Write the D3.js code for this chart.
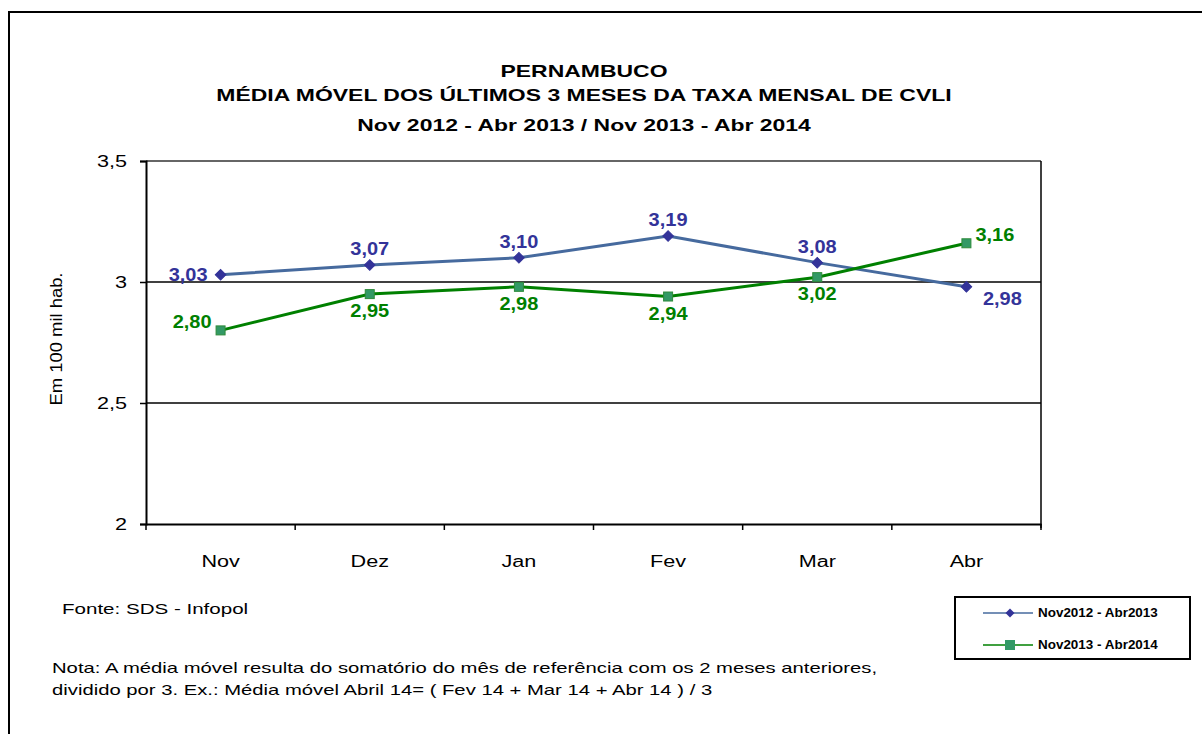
<!DOCTYPE html>
<html><head><meta charset="utf-8">
<script src="https://cdn.jsdelivr.net/npm/d3@7"></script>
<style>body{margin:0;background:#fff}svg{display:block;font-family:Arial,"Liberation Sans",sans-serif}</style>
</head><body>
<svg id="c" width="1202" height="734"></svg>
<script>
const categories = ["Nov","Dez","Jan","Fev","Mar","Abr"];
const series1Name = "Nov2012 - Abr2013";
const series1 = [3.03,3.07,3.10,3.19,3.08,2.98];
const series2Name = "Nov2013 - Abr2014";
const series2 = [2.80,2.95,2.98,2.94,3.02,3.16];
const yTicks = [2,2.5,3,3.5];
const titleLines = ["PERNAMBUCO","MÉDIA MÓVEL DOS ÚLTIMOS 3 MESES DA TAXA MENSAL DE CVLI","Nov 2012 - Abr 2013 / Nov 2013 - Abr 2014"];
const yLabel = "Em 100 mil hab.";
const source = "Fonte: SDS - Infopol";
const noteLines = ["Nota: A média móvel resulta do somatório do mês de referência com os 2 meses anteriores,","dividido por 3. Ex.: Média móvel  Abril 14= ( Fev 14 + Mar 14 + Abr 14 ) / 3"];

const svg = d3.select("#c");
const fmt = v => d3.format(".2f")(v).replace(".", ",");
const tfmt = v => String(v).replace(".", ",");
function stretch(sel, f){
  sel.each(function(){
    const w = this.getComputedTextLength();
    this.setAttribute("textLength", w*f);
    this.setAttribute("lengthAdjust","spacingAndGlyphs");
  });
}
const SX = 1.35;

// outer frame
svg.append("rect").attr("x",9).attr("y",12).attr("width",1300).attr("height",800)
  .attr("fill","none").attr("stroke","#000").attr("stroke-width",2);

const L=146, R=1041, T=161, B=524;
const x = d3.scaleBand().domain(categories).range([L,R]);
const y = d3.scaleLinear().domain([2,3.5]).range([B,T]);

// title
const tt = svg.append("g").selectAll("text").data(titleLines).join("text")
  .attr("x",584).attr("y",(d,i)=>[77,101,131][i]).attr("text-anchor","middle")
  .attr("font-weight","bold").attr("font-size",17).text(d=>d);
stretch(tt, SX);

// gridlines
svg.append("g").selectAll("line").data(yTicks.filter(t=>t>2)).join("line")
  .attr("x1",L).attr("x2",R).attr("y1",d=>y(d)).attr("y2",d=>y(d))
  .attr("stroke",(d)=>d===3.5?"#333":"#000").attr("stroke-width",1.5);
// right border
svg.append("line").attr("x1",R).attr("x2",R).attr("y1",T).attr("y2",B+4).attr("stroke","#000").attr("stroke-width",1.5);

// y axis
const ya = svg.append("g").attr("transform",`translate(${L},0)`)
  .call(d3.axisLeft(y).tickValues(yTicks).tickFormat(tfmt).tickSize(6).tickPadding(13));
ya.select(".domain").attr("stroke-width",2);
ya.selectAll(".tick line").attr("stroke-width",1.5);
ya.selectAll("text").attr("font-size",16).attr("font-family","Arial, 'Liberation Sans'").attr("fill","#000");
stretch(ya.selectAll("text"), SX);

// x axis
const xa = svg.append("g").attr("transform",`translate(0,${B})`)
  .call(d3.axisBottom(x).tickSize(0).tickPadding(32));
xa.select(".domain").attr("stroke-width",2);
xa.selectAll("text").attr("font-size",16).attr("font-family","Arial, 'Liberation Sans'").attr("fill","#000");
stretch(xa.selectAll("text"), SX);
const bounds = categories.map(c=>x(c)).concat([R]);
xa.selectAll(".bt").data(bounds).join("line").attr("class","bt")
  .attr("x1",d=>d).attr("x2",d=>d).attr("y1",0).attr("y2",6).attr("stroke","#000").attr("stroke-width",1.5);

// y label
const yl = svg.append("text").attr("transform","translate(62,339) rotate(-90)").attr("text-anchor","middle")
  .attr("font-size",16).text(yLabel);
stretch(yl, 1.15);

const cx = c => x(c)+x.bandwidth()/2;
const line = d3.line().x((d,i)=>cx(categories[i])).y(d=>y(d));

svg.append("path").datum(series1).attr("d",line).attr("fill","none").attr("stroke","#466a9e").attr("stroke-width",3);
svg.append("path").datum(series2).attr("d",line).attr("fill","none").attr("stroke","#008000").attr("stroke-width",3);

svg.append("g").selectAll("path").data(series1).join("path")
  .attr("transform",(d,i)=>`translate(${cx(categories[i])},${y(d)}) rotate(45)`)
  .attr("d",d3.symbol().type(d3.symbolSquare).size(56)).attr("fill","#333399").attr("stroke","#333399").attr("stroke-width",1);
svg.append("g").selectAll("rect").data(series2).join("rect")
  .attr("x",(d,i)=>cx(categories[i])-4.5).attr("y",d=>y(d)-4.5).attr("width",9).attr("height",9)
  .attr("fill","#339966").attr("stroke","#2e8b3a").attr("stroke-width",1);

// data labels
function pos1(i,v){
  const px=cx(categories[i]), py=y(v);
  if(i===0) return [px-13,py+6,"end"];
  if(i===categories.length-1) return [px+36,py+18,"middle"];
  return [px,py-10,"middle"];
}
function pos2(i,v){
  const px=cx(categories[i]), py=y(v);
  if(i===0) return [px-9,py-2,"end"];
  if(i===categories.length-1) return [px+9,py-2,"start"];
  return [px,py+23,"middle"];
}
const dl1 = svg.append("g").selectAll("text").data(series1).join("text")
  .each(function(d,i){const p=pos1(i,d);d3.select(this).attr("x",p[0]).attr("y",p[1]).attr("text-anchor",p[2]);})
  .attr("font-weight","bold").attr("font-size",18).attr("fill","#333399").text(fmt);
const dl2 = svg.append("g").selectAll("text").data(series2).join("text")
  .each(function(d,i){const p=pos2(i,d);d3.select(this).attr("x",p[0]).attr("y",p[1]).attr("text-anchor",p[2]);})
  .attr("font-weight","bold").attr("font-size",18).attr("fill","#008000").text(fmt);
stretch(dl1, 1.11); stretch(dl2, 1.11);

// source and note
const src = svg.append("text").attr("x",62).attr("y",614).attr("font-size",15).text(source);
stretch(src, 1.37);
const nt = svg.append("g").selectAll("text").data(noteLines).join("text")
  .attr("x",52).attr("y",(d,i)=>673+i*22).attr("font-size",15).text(d=>d);
stretch(nt, SX);

// legend
const lg = svg.append("g");
lg.append("rect").attr("x",955).attr("y",597).attr("width",235).attr("height",62).attr("fill","#fff").attr("stroke","#000").attr("stroke-width",2);
const leg = [{n:series1Name,c:"#466a9e",m:"d"},{n:series2Name,c:"#008000",m:"s"}];
leg.forEach((e,i)=>{
  const yy = 613 + i*32;
  lg.append("line").attr("x1",983).attr("x2",1033).attr("y1",yy).attr("y2",yy).attr("stroke",e.c).attr("stroke-width",1.5);
  if(e.m==="d") lg.append("path").attr("transform",`translate(1010,${yy}) rotate(45)`).attr("d",d3.symbol().type(d3.symbolSquare).size(40)).attr("fill","#333399");
  else lg.append("rect").attr("x",1005).attr("y",yy-5).attr("width",10).attr("height",10).attr("fill","#339966");
  const t = lg.append("text").attr("x",1038).attr("y",yy+4).attr("font-size",12).attr("font-weight","bold").text(e.n);
  stretch(t, 1.12);
});
</script>
</body></html>
